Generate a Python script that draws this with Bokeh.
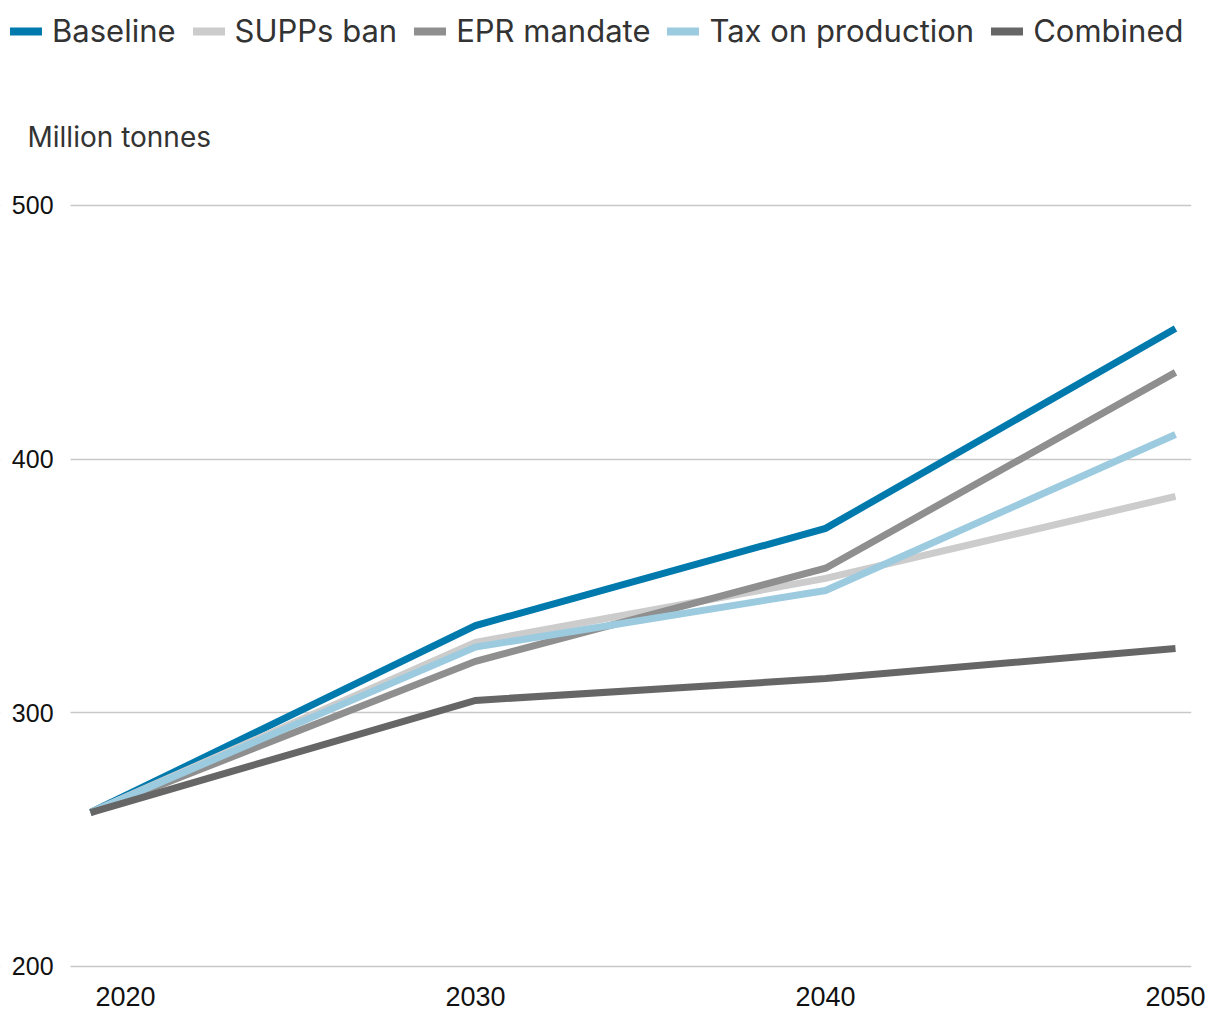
from bokeh.plotting import figure
from bokeh.models import Legend, LegendItem, Label, FixedTicker, BoxAnnotation
from bokeh.embed import file_html
from bokeh.resources import INLINE

years = [2019, 2030, 2040, 2050]
baseline = [260.7, 334.4, 372.7, 451.5]
supps_ban = [260.7, 327.8, 353.0, 385.3]
epr_mandate = [260.7, 320.3, 357.0, 434.2]
tax_production = [260.7, 325.9, 348.2, 409.7]
combined = [260.7, 304.9, 313.5, 325.4]

series_names = ["Baseline", "SUPPs ban", "EPR mandate", "Tax on production", "Combined"]
series_values = [baseline, supps_ban, epr_mandate, tax_production, combined]
series_colors = ["#007AAD", "#CCCCCC", "#8F8F8F", "#9CCBE0", "#666666"]

x_ticks = [2020, 2030, 2040, 2050]
y_ticks = [200, 300, 400, 500]
y_label = "Million tonnes"

X_START, X_END = 2016.4286, 2050.457
Y_START, Y_END = 194.48, 580.81
GRID_START = 2018.43          # where the horizontal rules begin
FRAME_H = 980                 # frame spans the whole canvas above the x axis labels

p = figure(width=1212, height=1015, output_backend="svg", toolbar_location=None,
           x_range=(X_START, X_END), y_range=(Y_START, Y_END),
           min_border_left=0, min_border_right=21, min_border_top=0, min_border_bottom=35,
           title_location=None)
p.outline_line_color = None

p.xaxis.ticker = FixedTicker(ticks=x_ticks)
p.yaxis.ticker = FixedTicker(ticks=y_ticks)
p.yaxis.fixed_location = GRID_START
for ax in (p.xaxis[0], p.yaxis[0]):
    ax.axis_line_color = None
    ax.major_tick_line_color = None
    ax.minor_tick_line_color = None
    ax.major_label_text_font = "Liberation Sans"
    ax.major_label_text_color = "#111111"
p.xaxis.major_label_text_font_size = "27px"
p.yaxis.major_label_text_font_size = "25px"
p.xaxis.major_label_standoff = 0
p.yaxis.major_label_standoff = 11

p.xgrid.grid_line_color = None
p.ygrid.grid_line_color = "#C8C8C8"
p.ygrid.grid_line_width = 1.5
p.ygrid.ticker = FixedTicker(ticks=y_ticks)

# keep the rules from running under the y tick labels
mask = BoxAnnotation(right=GRID_START, fill_color="white", fill_alpha=1.0,
                     line_alpha=0, level="underlay")
p.add_layout(mask)

for name, vals, col in zip(series_names, series_values, series_colors):
    p.line(years, vals, line_color=col, line_width=7, line_join="miter", line_cap="butt")

nan = float("nan")
items = []
for name, col in zip(series_names, series_colors):
    r = p.line([nan], [nan], line_color=col, line_width=8, line_cap="round")
    items.append(LegendItem(label=name, renderers=[r]))

legend = Legend(items=items, orientation="horizontal", location=(10, FRAME_H - 13 - 36),
                glyph_width=32, glyph_height=36, label_height=36,
                label_standoff=10, spacing=17, padding=0, margin=0,
                border_line_color=None, background_fill_alpha=0,
                label_text_font="Inter", label_text_font_size="31px",
                label_text_color="#333333")
p.add_layout(legend, "center")

lbl = Label(x=27, y=FRAME_H - 136, x_units="screen", y_units="screen", text=y_label,
            text_font="Inter", text_font_size="28px", text_color="#333333",
            text_baseline="alphabetic", text_align="left")
p.add_layout(lbl)

open("out.html", "w").write(file_html(p, INLINE))
